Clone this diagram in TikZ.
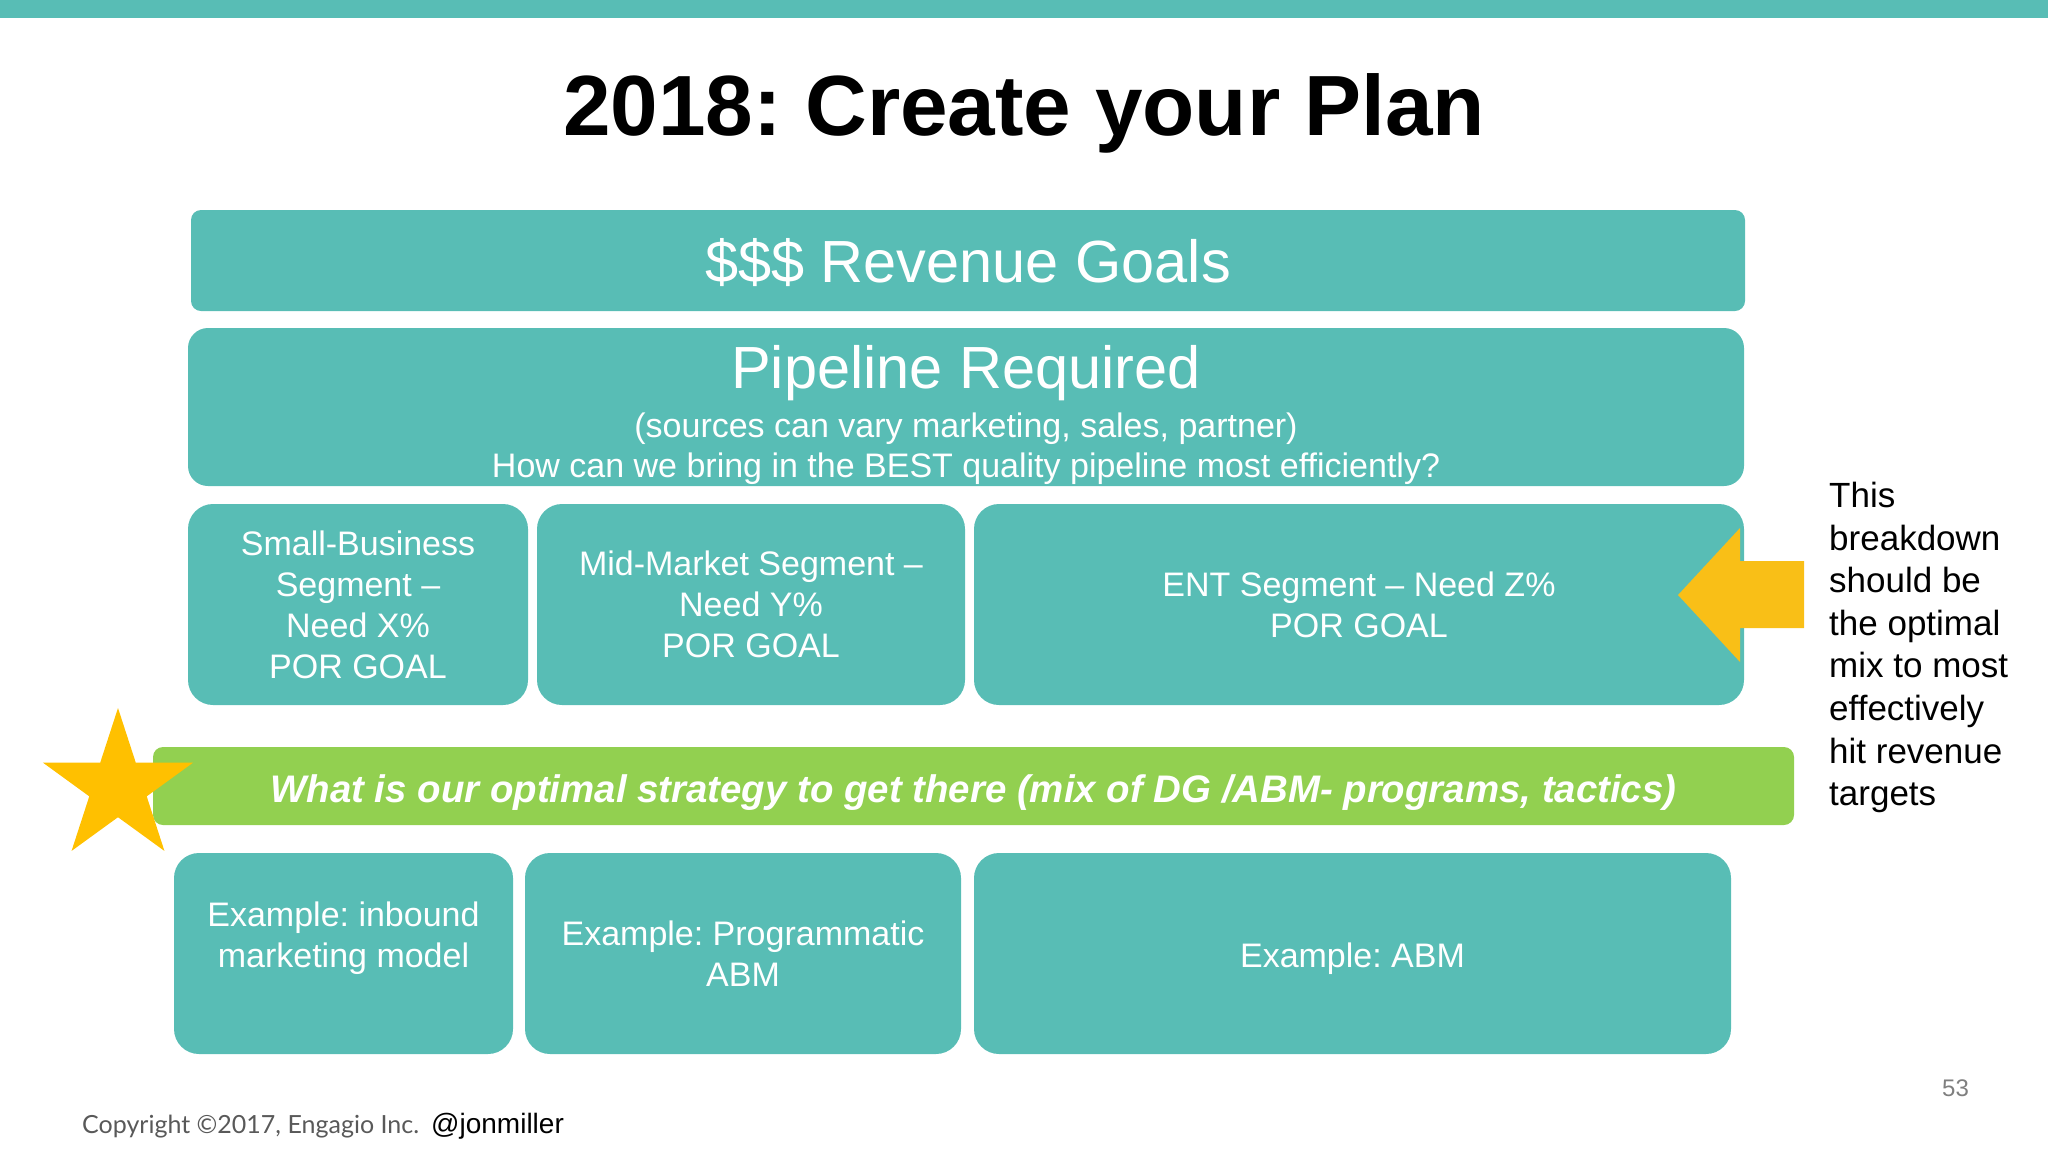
\documentclass[tikz,border=0pt]{standalone}
\usepackage{fontspec}
\setmainfont{Liberation Sans}
\newfontfamily\copyfont{Lato}
\definecolor{tealc}{HTML}{58BDB5}
\definecolor{greenc}{HTML}{92D050}
\definecolor{starc}{HTML}{FFC000}
\definecolor{arrowc}{HTML}{F9BF17}
\definecolor{grayc}{HTML}{595959}
\definecolor{numc}{HTML}{7F7F7F}
\frenchspacing
\begin{document}
\begin{tikzpicture}[x=1pt,y=-1pt,
  tbox/.style={fill=tealc, text=white, align=center, inner sep=0pt, rounded corners=#1},
  tbox/.default=25pt,
  boxtext/.style={font=\fontsize{34}{41}\selectfont},
  bigtext/.style={font=\fontsize{59.5}{68}\selectfont, text=white, inner sep=0pt},
  plain/.style={inner sep=0pt}]
\useasboundingbox (0,0) rectangle (2048,1152);
\fill[tealc] (0,0) rectangle (2048,18);

\node[plain, anchor=base, font=\fontsize{85.5}{98}\selectfont\bfseries] (title) at (1024,135) {2018: Create your Plan};

% revenue
\node[tbox=10pt, minimum width=1554pt, minimum height=101pt] (rev) at (968,260.5) {};
\node[bigtext, anchor=base] (revt) at (968,282) {\$\$\$ Revenue Goals};

% pipeline
\node[tbox=20pt, minimum width=1556pt, minimum height=158pt] (pipe) at (966,407) {};
\node[bigtext, anchor=base] (pipet) at (966,388) {Pipeline Required};
\node[plain, boxtext, text=white, anchor=base] (pipes) at (966,437) {(sources can vary marketing, sales, partner)};
\node[plain, boxtext, text=white, anchor=base] (pipeh) at (966,477) {How can we bring in the BEST quality pipeline most efficiently?};

% segments
\node[tbox, boxtext, minimum width=340pt, minimum height=201pt] (sb) at (358,604.5) {Small-Business\\Segment –\\Need X\%\\POR GOAL};
\node[tbox, boxtext, minimum width=428pt, minimum height=201pt] (mm) at (751,604.5) {Mid-Market Segment –\\Need Y\%\\POR GOAL};
\node[tbox, boxtext, minimum width=770pt, minimum height=201pt] (ent) at (1359,604.5) {ENT Segment – Need Z\%\\POR GOAL};

% arrow
\fill[arrowc] (1678,595) -- (1740,528) -- (1740,561) -- (1804,561) -- (1804,628) -- (1740,628) -- (1740,662) -- cycle;

% side text
\node[plain, anchor=north west, align=left, font=\fontsize{35}{42.6}\selectfont] (side) at (1829,482) {This\\breakdown\\should be\\the optimal\\mix to most\\effectively\\hit revenue\\targets};

% strategy bar
\node[fill=greenc, rounded corners=10pt, inner sep=0pt, minimum width=1641pt, minimum height=78pt] (strat) at (973.5,786) {};
\node[plain, anchor=base, text=white, font=\fontsize{38.4}{44}\selectfont\bfseries\itshape] (stratt) at (973.5,802) {What is our optimal strategy to get there (mix of DG /ABM- programs, tactics)};

% star
\begin{scope}[shift={(118,787)}]
\fill[starc] (-90:79) -- (-54:30.2) -- (-18:79) -- (18:30.2) -- (54:79) -- (90:30.2) -- (126:79) -- (162:30.2) -- (198:79) -- (234:30.2) -- cycle;
\end{scope}

% examples
\node[tbox, minimum width=339pt, minimum height=201pt] (inb) at (343.5,953.5) {};
\node[plain, boxtext, text=white, align=center, anchor=north] (inbt) at (343.5,902) {Example: inbound\\marketing model};
\node[tbox, boxtext, minimum width=436pt, minimum height=201pt] (prog) at (743,953.5) {Example: Programmatic\\ABM};
\node[tbox, minimum width=757pt, minimum height=201pt] (abm) at (1352.5,953.5) {};
\node[plain, boxtext, text=white, anchor=base] (abmt) at (1352.5,967) {Example: ABM};

% footer
\node[plain, anchor=base west, text=grayc, font=\copyfont\fontsize{25}{30}\selectfont] (copy) at (82,1133) {Copyright ©2017, Engagio Inc.};
\node[plain, anchor=base west, font=\fontsize{28}{32}\selectfont] (jon) at (431,1133) {@jonmiller};
\node[plain, anchor=base west, text=numc, font=\fontsize{24}{28}\selectfont] (num) at (1942,1096) {53};
\end{tikzpicture}
\end{document}
